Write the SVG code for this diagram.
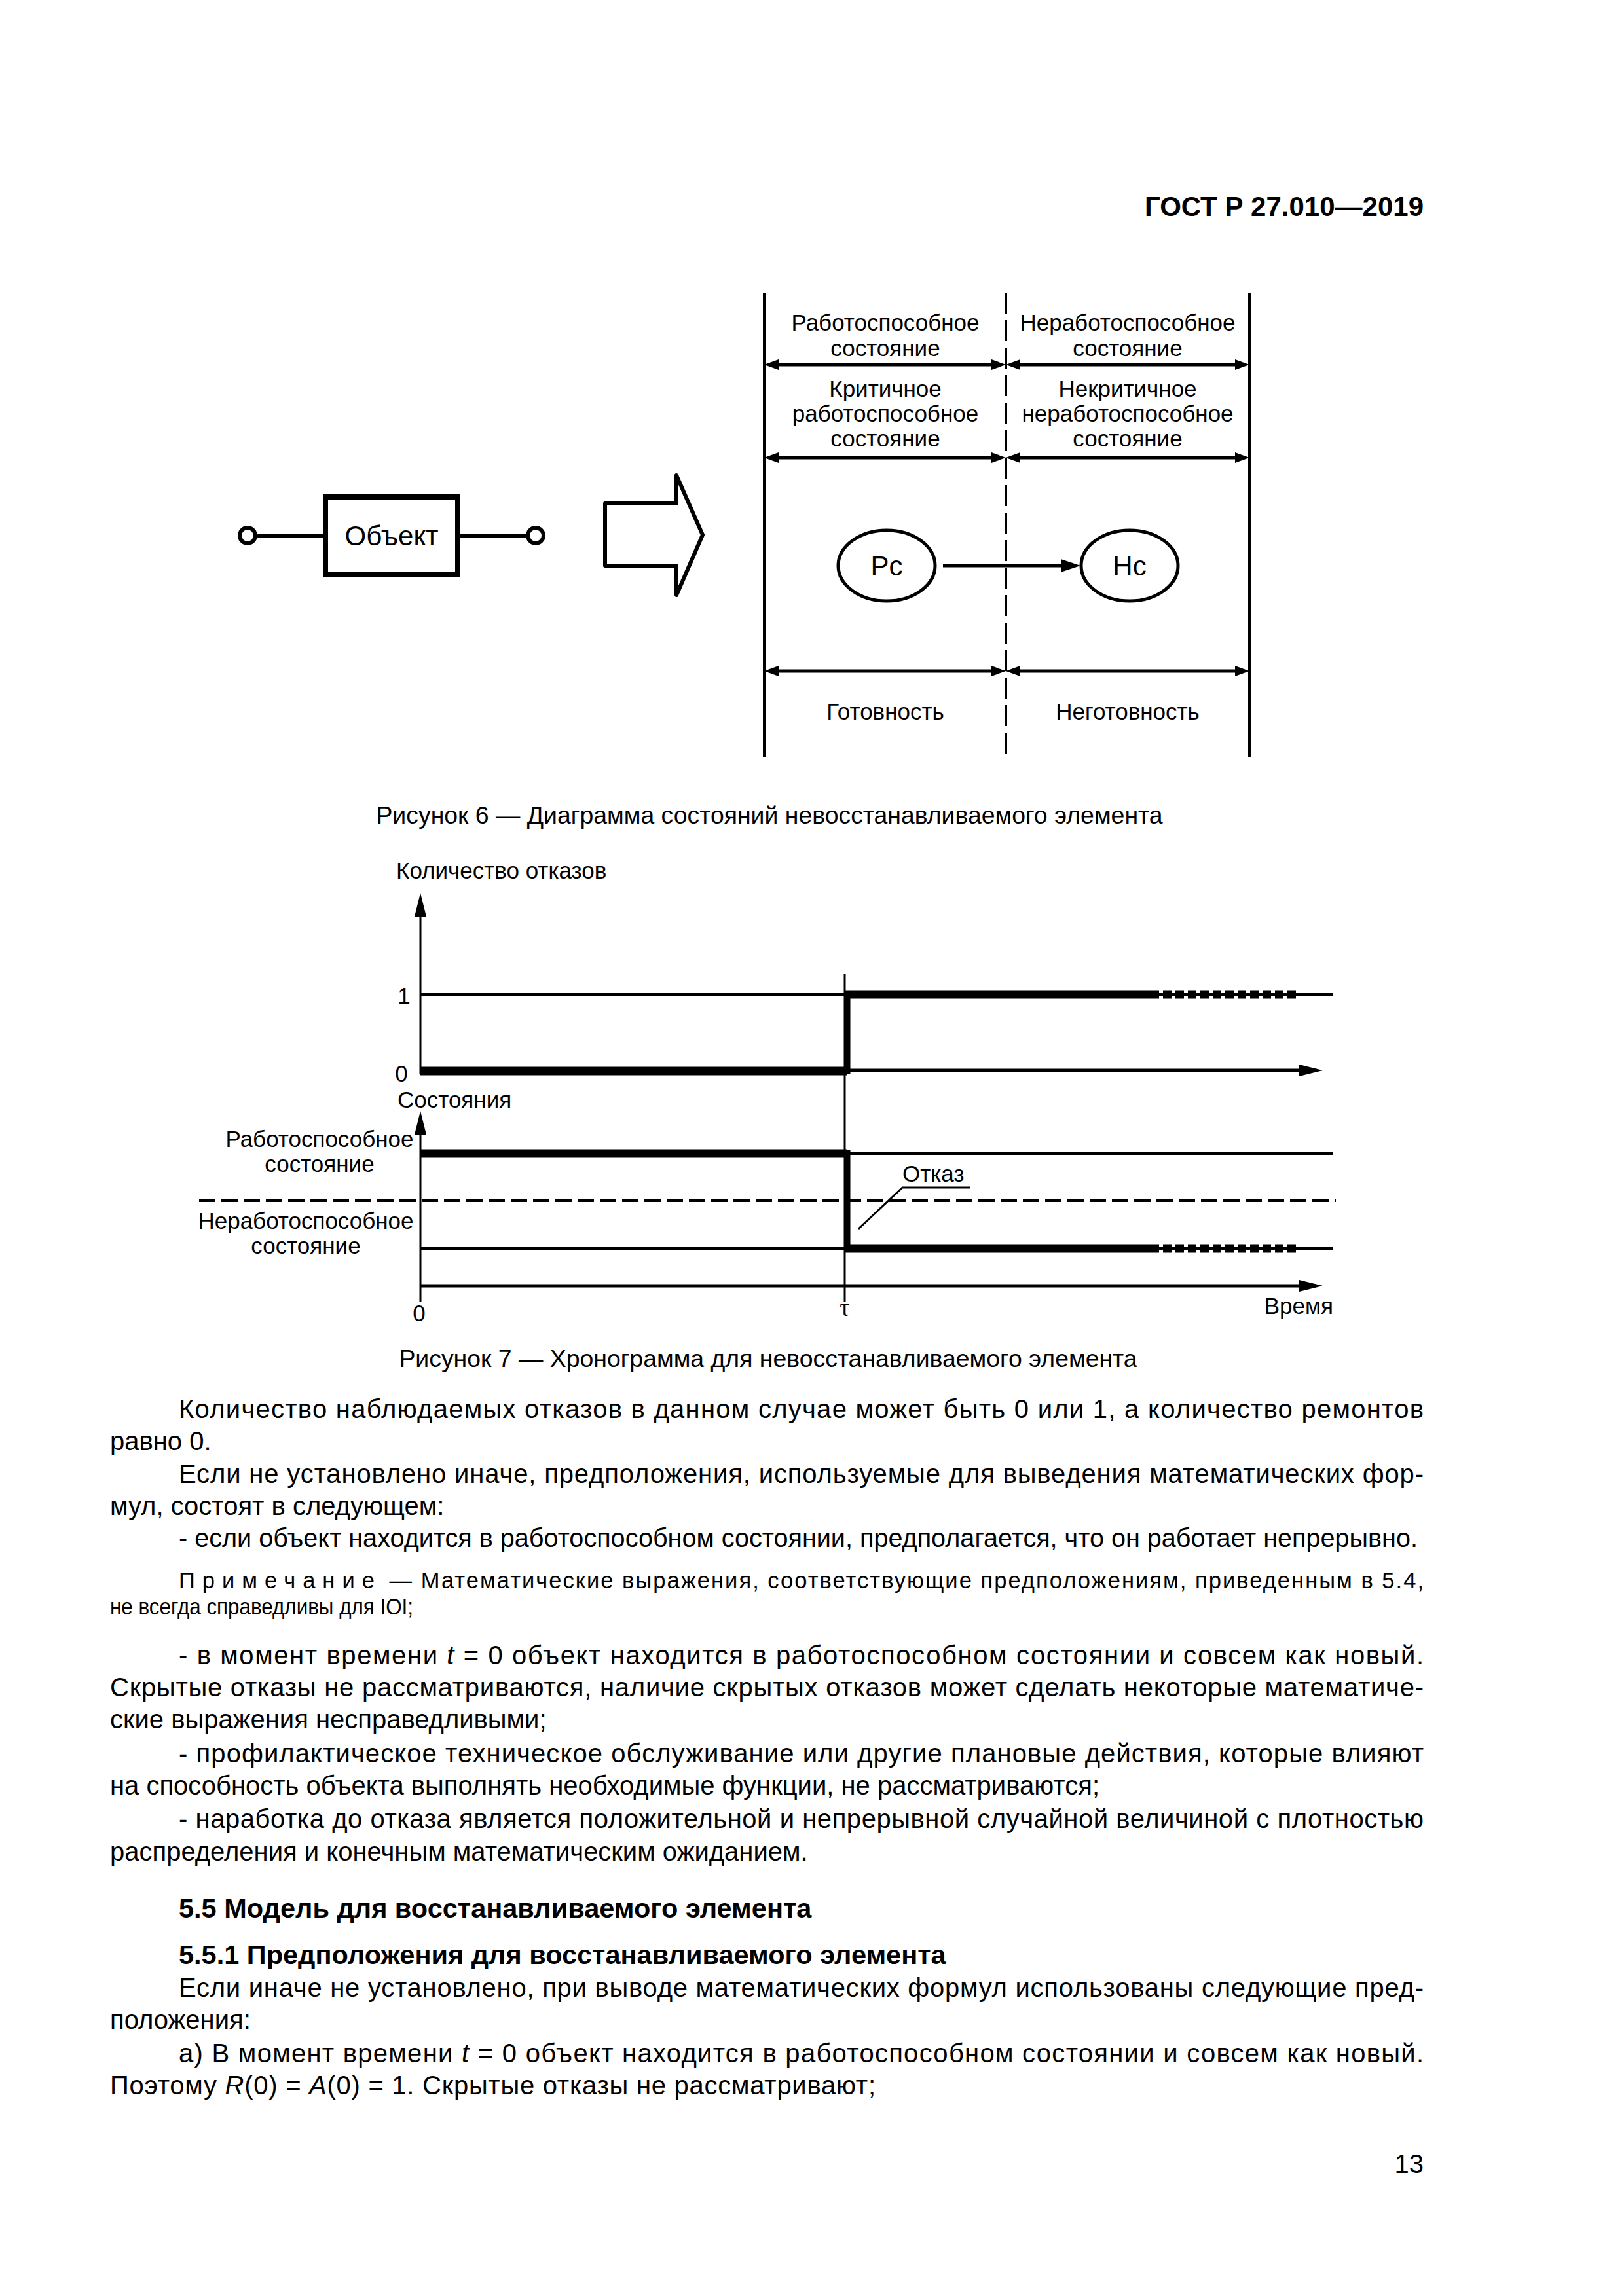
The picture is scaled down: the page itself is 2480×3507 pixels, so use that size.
<svg xmlns="http://www.w3.org/2000/svg" width="2480" height="3507" viewBox="0 0 2480 3507">
<defs>
<style>
text{font-family:"Liberation Sans",Arial,sans-serif;fill:#000}
.hdr{font-size:42px;font-weight:bold}
.body{font-size:40px}
.note{font-size:34.5px}
.cap{font-size:37.4px}
.lbl{font-size:35px}
.big{font-size:42px}
.b{font-weight:bold;font-size:41.5px}
.i{font-style:italic}
.c{text-anchor:middle}
.e{text-anchor:end}
.ln{stroke:#000;fill:none}
.thin{stroke:#000;stroke-width:3;fill:none}
.thick{stroke:#000;stroke-width:13;fill:none}
.hatch{stroke:#000;stroke-width:13;fill:none;stroke-dasharray:13 6}
</style>
<marker id="ah6" viewBox="0 0 22 16" refX="12" refY="8" markerWidth="22" markerHeight="16" markerUnits="userSpaceOnUse" orient="auto-start-reverse"><path d="M0,0L22,8L0,16z"/></marker>
<marker id="ahp" viewBox="0 0 30 20" refX="20" refY="10" markerWidth="30" markerHeight="20" markerUnits="userSpaceOnUse" orient="auto"><path d="M0,0L30,10L0,20z"/></marker>
<marker id="ahax" viewBox="0 0 36 18" refX="26" refY="9" markerWidth="36" markerHeight="18" markerUnits="userSpaceOnUse" orient="auto"><path d="M0,0L36,9L0,18z"/></marker>
</defs>
<rect width="2480" height="3507" fill="#fff"/>

<text class="hdr e" x="2174" y="330">ГОСТ Р 27.010—2019</text>

<!-- Figure 6 -->
<g id="fig6">
  <g id="object">
    <rect x="497" y="759" width="202" height="119" class="ln" stroke-width="8"/>
    <text class="big c" x="598" y="833">Объект</text>
  </g>
  <g id="terminal-left"><circle cx="378" cy="818" r="12" fill="#fff" stroke="#000" stroke-width="6"/></g>
  <g id="terminal-right"><circle cx="818" cy="818" r="12" fill="#fff" stroke="#000" stroke-width="6"/></g>
  <g id="big-arrow">
    <polygon points="924,769 1033,769 1033,726 1073,817 1033,909 1033,864 924,864" class="ln" stroke-width="6" stroke-linejoin="round"/>
  </g>
  <g id="frame">
    <line x1="1167" y1="447" x2="1167" y2="1156" class="ln" stroke-width="4"/>
    <line x1="1908" y1="447" x2="1908" y2="1156" class="ln" stroke-width="4"/>
    <line x1="1536" y1="447" x2="1536" y2="1156" class="ln" stroke-width="4" stroke-dasharray="32 10"/>
  </g>
  <g id="hdr-work">
    <text class="lbl c" x="1352" y="505">Работоспособное</text>
    <text class="lbl c" x="1352" y="544">состояние</text>
  </g>
  <g id="hdr-nonwork">
    <text class="lbl c" x="1722" y="505">Неработоспособное</text>
    <text class="lbl c" x="1722" y="544">состояние</text>
  </g>
  <g id="hdr-critical">
    <text class="lbl c" x="1352" y="606">Критичное</text>
    <text class="lbl c" x="1352" y="644">работоспособное</text>
    <text class="lbl c" x="1352" y="682">состояние</text>
  </g>
  <g id="hdr-noncritical">
    <text class="lbl c" x="1722" y="606">Некритичное</text>
    <text class="lbl c" x="1722" y="644">неработоспособное</text>
    <text class="lbl c" x="1722" y="682">состояние</text>
  </g>
  <g id="state-Pc">
    <ellipse cx="1354" cy="864" rx="74" ry="54" class="ln" stroke-width="5"/>
    <text class="big c" x="1354" y="879">Рс</text>
  </g>
  <g id="state-Hc">
    <ellipse cx="1725" cy="864" rx="74" ry="54" class="ln" stroke-width="5"/>
    <text class="big c" x="1725" y="879">Нс</text>
  </g>
  <g id="ready">
    <text class="lbl c" x="1352" y="1099">Готовность</text>
  </g>
  <g id="notready">
    <text class="lbl c" x="1722" y="1099">Неготовность</text>
  </g>
  <g id="connectors6">
    <line x1="390" y1="818" x2="493" y2="818" class="ln" stroke-width="6"/>
    <line x1="703" y1="818" x2="806" y2="818" class="ln" stroke-width="6"/>
    <line x1="1177" y1="557" x2="1526" y2="557" class="ln" stroke-width="5" marker-start="url(#ah6)" marker-end="url(#ah6)"/>
    <line x1="1546" y1="557" x2="1898" y2="557" class="ln" stroke-width="5" marker-start="url(#ah6)" marker-end="url(#ah6)"/>
    <line x1="1177" y1="699" x2="1526" y2="699" class="ln" stroke-width="5" marker-start="url(#ah6)" marker-end="url(#ah6)"/>
    <line x1="1546" y1="699" x2="1898" y2="699" class="ln" stroke-width="5" marker-start="url(#ah6)" marker-end="url(#ah6)"/>
    <line x1="1177" y1="1025" x2="1526" y2="1025" class="ln" stroke-width="5" marker-start="url(#ah6)" marker-end="url(#ah6)"/>
    <line x1="1546" y1="1025" x2="1898" y2="1025" class="ln" stroke-width="5" marker-start="url(#ah6)" marker-end="url(#ah6)"/>
    <line x1="1440" y1="864" x2="1640" y2="864" class="ln" stroke-width="5" marker-end="url(#ahp)"/>
  </g>
</g>
<text class="cap c" x="1175" y="1258">Рисунок 6 — Диаграмма состояний невосстанавливаемого элемента</text>

<!-- Figure 7 -->
<g id="fig7">
  <text class="lbl" x="605" y="1342">Количество отказов</text>
  <line x1="642" y1="1640" x2="642" y2="1374" class="thin" marker-end="url(#ahax)"/>
  <line x1="642" y1="1519" x2="2036" y2="1519" class="ln" stroke-width="4"/>
  <line x1="642" y1="1635" x2="2010" y2="1635" class="ln" stroke-width="5" marker-end="url(#ahax)"/>
  <text class="lbl c" x="617" y="1533">1</text>
  <text class="lbl c" x="613" y="1652">0</text>
  <line x1="1290" y1="1487" x2="1290" y2="1988" class="thin"/>
  <line x1="642" y1="1636" x2="1294" y2="1636" class="thick"/>
  <line x1="1294" y1="1640" x2="1294" y2="1513" class="ln" stroke-width="9"/>
  <line x1="1290" y1="1519" x2="1757" y2="1519" class="thick"/>
  <line x1="1757" y1="1519" x2="1979" y2="1519" class="hatch"/>

  <text class="lbl" x="607" y="1692">Состояния</text>
  <line x1="642" y1="1988" x2="642" y2="1707" class="thin" marker-end="url(#ahax)"/>
  <text class="lbl c" x="488" y="1752">Работоспособное</text>
  <text class="lbl c" x="488" y="1790">состояние</text>
  <text class="lbl c" x="467" y="1877">Неработоспособное</text>
  <text class="lbl c" x="467" y="1915">состояние</text>
  <line x1="642" y1="1762" x2="2036" y2="1762" class="ln" stroke-width="4"/>
  <line x1="642" y1="1907" x2="2036" y2="1907" class="ln" stroke-width="4"/>
  <line x1="304" y1="1834" x2="2040" y2="1834" class="ln" stroke-width="4" stroke-dasharray="25 9"/>
  <line x1="642" y1="1762" x2="1294" y2="1762" class="thick"/>
  <line x1="1294" y1="1756" x2="1294" y2="1913" class="ln" stroke-width="9"/>
  <line x1="1290" y1="1907" x2="1757" y2="1907" class="thick"/>
  <line x1="1757" y1="1907" x2="1979" y2="1907" class="hatch"/>
  <line x1="642" y1="1964" x2="2010" y2="1964" class="ln" stroke-width="5" marker-end="url(#ahax)"/>
  <text class="lbl" x="1378" y="1805">Отказ</text>
  <polyline points="1482,1814 1378,1814 1311,1877" class="thin"/>
  <text class="lbl c" x="640" y="2018">0</text>
  <text class="c" x="1290" y="2010" style="font-family:'Liberation Serif',serif;font-size:38px">τ</text>
  <text class="lbl e" x="2036" y="2007">Время</text>
</g>
<text class="cap c" x="1173" y="2088">Рисунок 7 — Хронограмма для невосстанавливаемого элемента</text>

<!-- Body text -->
<g id="body" class="body">
  <text class="body" x="273" y="2166" textLength="1901" lengthAdjust="spacing">Количество наблюдаемых отказов в данном случае может быть 0 или 1, а количество ремонтов</text>
  <text class="body" x="168" y="2215">равно 0.</text>
  <text class="body" x="273" y="2265" textLength="1901" lengthAdjust="spacing">Если не установлено иначе, предположения, используемые для выведения математических фор-</text>
  <text class="body" x="168" y="2314">мул, состоят в следующем:</text>
  <text class="body" x="273" y="2363" textLength="1892" lengthAdjust="spacingAndGlyphs">- если объект находится в работоспособном состоянии, предполагается, что он работает непрерывно.</text>
  <text class="note" x="273" y="2426" textLength="1901" lengthAdjust="spacing"><tspan letter-spacing="9">Примечание</tspan> — Математические выражения, соответствующие предположениям, приведенным в 5.4,</text>
  <text class="note" x="168" y="2466" textLength="463" lengthAdjust="spacingAndGlyphs">не всегда справедливы для IOI;</text>
  <text class="body" x="273" y="2542" textLength="1901" lengthAdjust="spacing">- в момент времени <tspan class="i">t</tspan> = 0 объект находится в работоспособном состоянии и совсем как новый.</text>
  <text class="body" x="168" y="2591" textLength="2006" lengthAdjust="spacing">Скрытые отказы не рассматриваются, наличие скрытых отказов может сделать некоторые математиче-</text>
  <text class="body" x="168" y="2640">ские выражения несправедливыми;</text>
  <text class="body" x="273" y="2692" textLength="1901" lengthAdjust="spacing">- профилактическое техническое обслуживание или другие плановые действия, которые влияют</text>
  <text class="body" x="168" y="2741">на способность объекта выполнять необходимые функции, не рассматриваются;</text>
  <text class="body" x="273" y="2792" textLength="1901" lengthAdjust="spacing">- наработка до отказа является положительной и непрерывной случайной величиной с плотностью</text>
  <text class="body" x="168" y="2842">распределения и конечным математическим ожиданием.</text>
  <text class="b" x="273" y="2929">5.5 Модель для восстанавливаемого элемента</text>
  <text class="b" x="273" y="3000">5.5.1 Предположения для восстанавливаемого элемента</text>
  <text class="body" x="273" y="3050" textLength="1901" lengthAdjust="spacing">Если иначе не установлено, при выводе математических формул использованы следующие пред-</text>
  <text class="body" x="168" y="3099">положения:</text>
  <text class="body" x="273" y="3150" textLength="1901" lengthAdjust="spacing">а) В момент времени <tspan class="i">t</tspan> = 0 объект находится в работоспособном состоянии и совсем как новый.</text>
  <text class="body" x="168" y="3199" textLength="1169" lengthAdjust="spacing">Поэтому <tspan class="i">R</tspan>(0) = <tspan class="i">A</tspan>(0) = 1. Скрытые отказы не рассматривают;</text>
  <text class="body e" x="2174" y="3319">13</text>
</g>
</svg>
